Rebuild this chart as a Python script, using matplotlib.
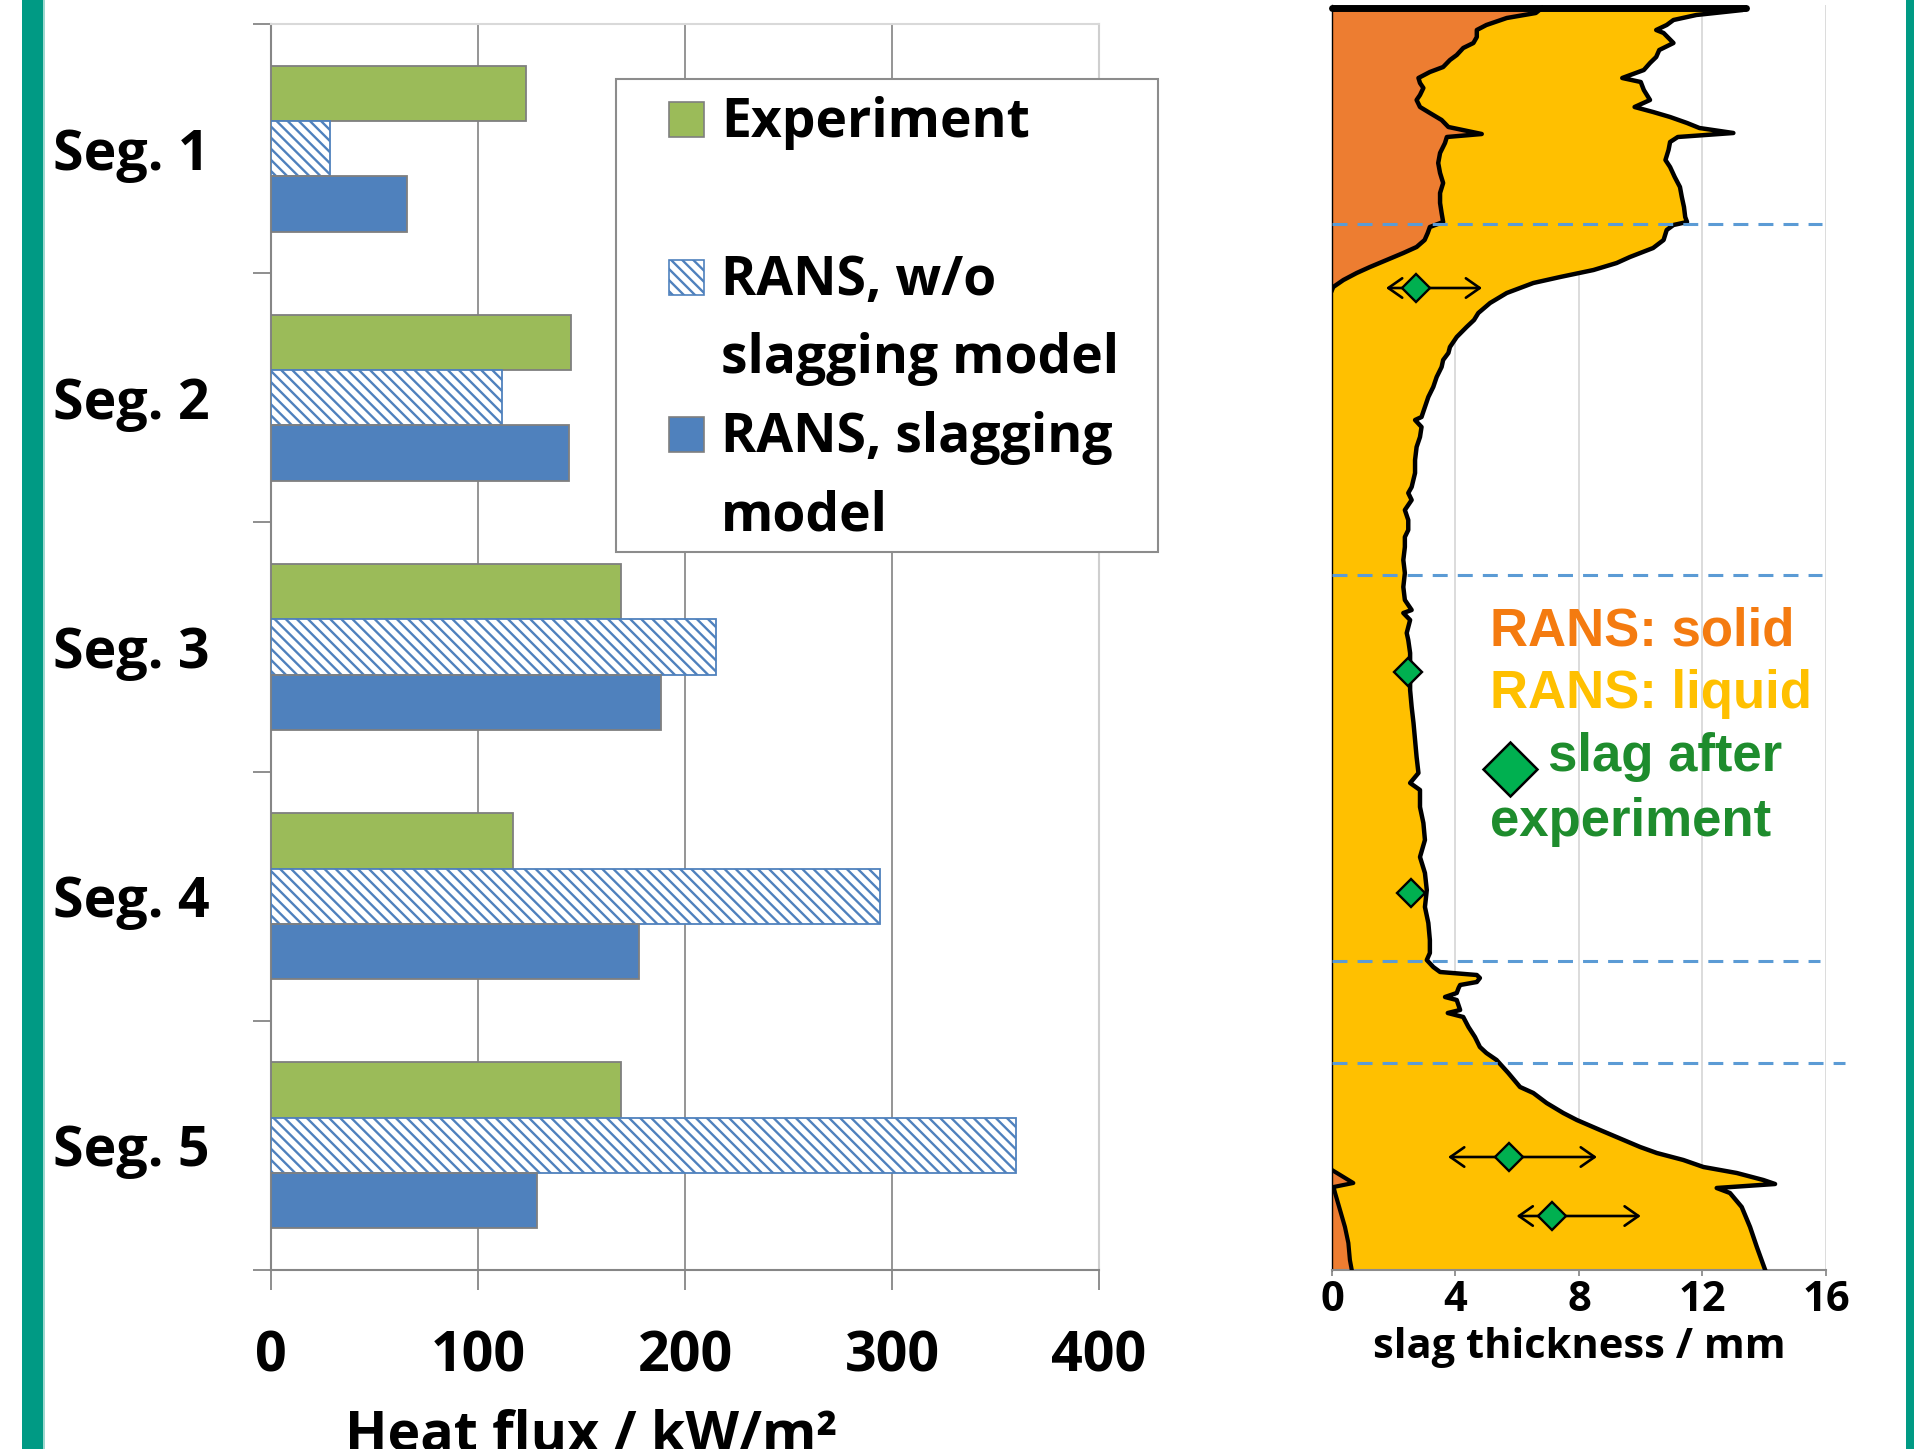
import numpy as np
import matplotlib
matplotlib.use('Agg')
import matplotlib.pyplot as plt
from matplotlib.patches import Rectangle, ArrowStyle

plt.rcParams['font.family'] = ['Open Sans', 'DejaVu Sans']
plt.rcParams['font.weight'] = 'bold'
plt.rcParams['hatch.linewidth'] = 1.7

# ---------------- data: heat flux per segment ----------------
segments = ['Seg. 1', 'Seg. 2', 'Seg. 3', 'Seg. 4', 'Seg. 5']
experiment = [123, 145, 169, 117, 169]
rans_wo_slag = [28.5, 111.5, 215, 294, 360]
rans_slag = [65.5, 144, 188.5, 178, 128.5]
flux_ticks = [0, 100, 200, 300, 400]
legend_labels = ['Experiment', 'RANS, w/o\nslagging model', 'RANS, slagging\nmodel']

# ---------------- data: slag thickness profile ----------------
# axial position (a.u., 0 = bottom) and total (liquid) slag thickness / mm
liquid_h = [1262, 1260, 1255, 1250, 1245, 1240, 1237, 1227, 1220, 1213, 1207, 1200, 1192, 1188,
            1180, 1170, 1163, 1158, 1153, 1147, 1142, 1137, 1133, 1128, 1120, 1110, 1103, 1093,
            1083, 1073, 1063, 1053, 1048, 1045, 1040, 1030, 1022, 1013, 1007, 1000, 993, 987,
            977, 967, 957, 950, 943, 933, 923, 917, 910, 903, 893, 883, 873, 863, 853, 850,
            843, 833, 823, 810, 797, 783, 777, 770, 760, 750, 740, 733, 723, 710, 697, 683,
            670, 660, 657, 650, 637, 630, 617, 597, 580, 563, 547, 530, 513, 497, 487, 480,
            463, 447, 430, 413, 397, 380, 363, 347, 330, 317, 310, 303, 298, 295, 292, 288,
            285, 282, 277, 273, 270, 260, 257, 253, 243, 233, 223, 217, 210, 197, 183, 177,
            167, 157, 150, 140, 130, 123, 117, 110, 103, 97, 90, 86, 82, 77, 63, 43, 23, 0]
liquid_mm = [13.4, 13.3, 11.8, 11.06, 10.84, 10.5, 10.74, 11.06, 10.6, 10.5, 10.3, 10.1, 9.4, 10.0,
             10.1, 10.3, 9.8, 10.4, 10.95, 11.5, 11.9, 13.0, 11.2, 10.95, 10.9, 10.8, 10.95, 11.1,
             11.27, 11.33, 11.4, 11.44, 11.5, 11.06, 10.84, 10.74, 10.4, 9.65, 9.22, 8.47, 7.39, 6.52,
             5.66, 5.12, 4.74, 4.6, 4.36, 4.04, 3.82, 3.77, 3.6, 3.55, 3.39, 3.28, 3.12, 3.01, 2.9, 2.69,
             2.9, 2.85, 2.74, 2.69, 2.69, 2.58, 2.47, 2.58, 2.36, 2.47, 2.47, 2.36, 2.36, 2.31, 2.36, 2.31,
             2.36, 2.58, 2.31, 2.53, 2.42, 2.47, 2.53, 2.53, 2.53, 2.58, 2.64, 2.69, 2.74, 2.8, 2.53, 2.85,
             2.85, 2.96, 3.01, 2.85, 3.01, 3.07, 3.01, 3.12, 3.17, 3.17, 3.07, 3.28, 3.5, 4.69, 4.79, 4.69,
             4.15, 4.1, 4.04, 3.66, 4.04, 4.15, 3.75, 4.25, 4.42, 4.63, 4.79, 5.0, 5.33, 5.71, 6.09, 6.52,
             6.95, 7.49, 7.93, 8.68, 9.44, 9.98, 10.52, 11.38, 12.03, 13.11, 13.97, 14.35, 12.46, 12.89,
             13.27, 13.54, 13.76, 14.03]
# solid slag thickness, upper region
solid_upper_h = [1262, 1257, 1252, 1245, 1240, 1233, 1227, 1222, 1215, 1210, 1203, 1198, 1192, 1187,
                 1182, 1175, 1170, 1163, 1157, 1150, 1143, 1136, 1133, 1127, 1117, 1107, 1097, 1087,
                 1077, 1067, 1057, 1048, 1043, 1037, 1030, 1023, 1017, 1010, 1003, 997, 990, 983, 980]
solid_upper_mm = [6.8, 6.6, 5.66, 5.0, 4.69, 4.69, 4.58, 4.25, 4.04, 3.82, 3.6, 3.17, 2.8, 2.85,
                  2.96, 2.85, 2.74, 2.85, 3.17, 3.55, 3.77, 4.85, 3.72, 3.66, 3.5, 3.44, 3.5, 3.6,
                  3.5, 3.5, 3.55, 3.6, 3.17, 3.1, 3.0, 2.74, 2.31, 1.77, 1.23, 0.8, 0.37, 0.04, 0.0]
# solid slag thickness, lower region
solid_lower_h = [100, 87, 83, 77, 60, 43, 27, 10, 0]
solid_lower_mm = [0.0, 0.69, 0.05, 0.1, 0.26, 0.42, 0.53, 0.58, 0.64]

# slag measured after experiment
exp_h = [982, 598, 377, 113, 54]
exp_mm = [2.72, 2.46, 2.56, 5.73, 7.13]
exp_min = [1.75, None, None, 3.76, 5.98]
exp_max = [4.86, None, None, 8.58, 10.0]

# segment borders
border_h = [1046, 695, 309, 207]
border_end = [15.87, 15.87, 15.8, 16.62]
thick_ticks = [0, 4, 8, 12, 16]

# ---------------- figure ----------------
W, H = 1915, 1449
fig = plt.figure(figsize=(W / 100, H / 100), dpi=100)


def fx(x):
    return x / W


def fy(y):
    return 1 - y / H


GREEN = '#9BBB59'
BLUE = '#4F81BD'
GRAY = '#868686'

# ---------- left panel: heat flux ----------
ax1 = fig.add_axes([fx(271), fy(1270), (1099 - 271) / W, (1270 - 24) / H])
pos = np.arange(len(segments))
bh = 1 / 4.5
ax1.barh(pos - bh, experiment, height=bh, color=GREEN, edgecolor='#7F7F7F', lw=1.3, zorder=3)
ax1.barh(pos, rans_wo_slag, height=bh, color='white', edgecolor=BLUE, hatch='\\\\\\', lw=1.3, zorder=3)
ax1.barh(pos + bh, rans_slag, height=bh, color=BLUE, edgecolor='#7F7F7F', lw=1.3, zorder=3)
ax1.set_ylim(len(segments) - 0.5, -0.5)
ax1.set_xlim(flux_ticks[0], flux_ticks[-1])
ax1.set_xticks(flux_ticks)
ax1.set_xticklabels([str(t) for t in flux_ticks])
ax1.set_yticks(pos)
ax1.set_yticklabels(segments)
ax1.set_yticks(np.arange(-0.5, len(segments)), minor=True)
ax1.tick_params(axis='y', which='major', length=0, pad=44, labelsize=40)
ax1.tick_params(axis='y', which='minor', length=13, width=1.3, color=GRAY)
ax1.tick_params(axis='x', length=14.5, width=1.3, color=GRAY, pad=28, labelsize=40)
ax1.grid(axis='x', color='#8C8C8C', lw=1.3)
ax1.set_axisbelow(True)
for s in ['left', 'bottom']:
    ax1.spines[s].set_color(GRAY)
    ax1.spines[s].set_linewidth(1.5)
ax1.spines['top'].set_color('#D9D9D9')
ax1.spines['right'].set_color('#CFCFCF')
ax1.spines['top'].set_linewidth(1.5)
ax1.spines['right'].set_linewidth(1.5)
ax1.set_xlabel('Heat flux / kW/m²', fontsize=40, weight='bold')
ax1.xaxis.set_label_coords(0.3865, -0.111)

# legend (manual, Excel style)
fig.add_artist(Rectangle((fx(616), fy(552)), (1158 - 616) / W, (552 - 79) / H,
                         transform=fig.transFigure, fc='white', ec='#8C8C8C', lw=1.5, zorder=2))
leg_styles = [dict(fc=GREEN, ec='#7F7F7F'), dict(fc='white', ec=BLUE, hatch='\\\\\\'),
              dict(fc=BLUE, ec='#7F7F7F')]
leg_base = [137, 295, 452]
for lab, st, yb in zip(legend_labels, leg_styles, leg_base):
    fig.add_artist(Rectangle((fx(669), fy(yb)), 35 / W, 35 / H, transform=fig.transFigure,
                             lw=1.2, zorder=3, **st))
    for k, line in enumerate(lab.split('\n')):
        fig.text(fx(721), fy(yb + k * 78.5), line, fontsize=38.5, weight='bold',
                 ha='left', va='baseline', zorder=3)

# ---------- right panel: slag thickness ----------
ax2 = fig.add_axes([fx(1332), fy(1270), (1826 - 1332) / W, (1270 - 5) / H])
ax2.set_xlim(thick_ticks[0], thick_ticks[-1])
ax2.set_ylim(0, 1265)
ax2.fill_betweenx(liquid_h, 0, liquid_mm, color='#FFC000', lw=0, zorder=2)
ax2.fill_betweenx(solid_upper_h, 0, solid_upper_mm, color='#ED7D31', lw=0, zorder=2.1)
ax2.fill_betweenx(solid_lower_h, 0, solid_lower_mm, color='#ED7D31', lw=0, zorder=2.1)
ax2.plot(liquid_mm, liquid_h, color='k', lw=3.2, solid_joinstyle='round', zorder=3)
ax2.plot(solid_upper_mm, solid_upper_h, color='k', lw=3.2, solid_joinstyle='round', zorder=3)
ax2.plot(solid_lower_mm, solid_lower_h, color='k', lw=3.0, solid_joinstyle='round', zorder=3)
ax2.plot([0, liquid_mm[0]], [liquid_h[0], liquid_h[0]], color='k', lw=5,
         solid_capstyle='round', zorder=3, clip_on=False)
for hb, xe in zip(border_h, border_end):
    ax2.plot([0, xe], [hb, hb], color='#5B9BD5', lw=2.2, linestyle=(0, (4.9, 3.3)),
             zorder=4, clip_on=False)
astyle = ArrowStyle('<->', head_length=10, head_width=7)
for xm, hm, x0, x1 in zip(exp_mm, exp_h, exp_min, exp_max):
    if x0 is not None:
        ax2.annotate('', xy=(x1, hm), xytext=(x0, hm),
                     arrowprops=dict(arrowstyle=astyle, color='k', lw=1.9, shrinkA=0, shrinkB=0,
                                     mutation_scale=1), zorder=5)
ax2.plot(exp_mm, exp_h, 'D', ms=14.5, mfc='#00B050', mec='k', mew=1.7, zorder=6, clip_on=False)

ax2.set_xticks(thick_ticks)
ax2.set_xticklabels([str(t) for t in thick_ticks])
ax2.set_yticks([])
ax2.grid(axis='x', color='#D9D9D9', lw=1.3)
ax2.set_axisbelow(True)
ax2.tick_params(axis='x', length=4.5, width=1.3, color='#8C8C8C', pad=3, labelsize=30)
ax2.spines['top'].set_visible(False)
ax2.spines['right'].set_visible(False)
ax2.spines['left'].set_color('k')
ax2.spines['left'].set_linewidth(1.0)
ax2.spines['bottom'].set_color('#8C8C8C')
ax2.spines['bottom'].set_linewidth(1.5)
ax2.set_xlabel('slag thickness / mm', fontsize=30, weight='bold')
ax2.xaxis.set_label_coords(0.5, -0.045)

tfam = ['Liberation Sans', 'DejaVu Sans']
ax2.text(5.12, 625, 'RANS: solid', color='#F47B10', fontsize=38, weight='bold', family=tfam,
         ha='left', va='baseline', zorder=7)
ax2.text(5.12, 562, 'RANS: liquid', color='#FFC000', fontsize=38, weight='bold', family=tfam,
         ha='left', va='baseline', zorder=7)
ax2.plot([5.76], [501], 'D', ms=27, mfc='#00B050', mec='k', mew=1.8, zorder=7)
ax2.text(7.0, 499, 'slag after', color='#1E8C2D', fontsize=38, weight='bold', family=tfam,
         ha='left', va='baseline', zorder=7)
ax2.text(5.12, 434, 'experiment', color='#1E8C2D', fontsize=38, weight='bold', family=tfam,
         ha='left', va='baseline', zorder=7)

# decorative teal frame strips
fig.add_artist(Rectangle((fx(22), 0), 21 / W, 1, transform=fig.transFigure,
                         color='#009A84', lw=0, zorder=8))
fig.add_artist(Rectangle((fx(43), 0), 2 / W, 1, transform=fig.transFigure,
                         color='#9ED8CF', lw=0, zorder=8))
fig.add_artist(Rectangle((fx(1906), 0), 9 / W, 1, transform=fig.transFigure,
                         color='#009A84', lw=0, zorder=8))

fig.savefig('out.png', dpi=100)
